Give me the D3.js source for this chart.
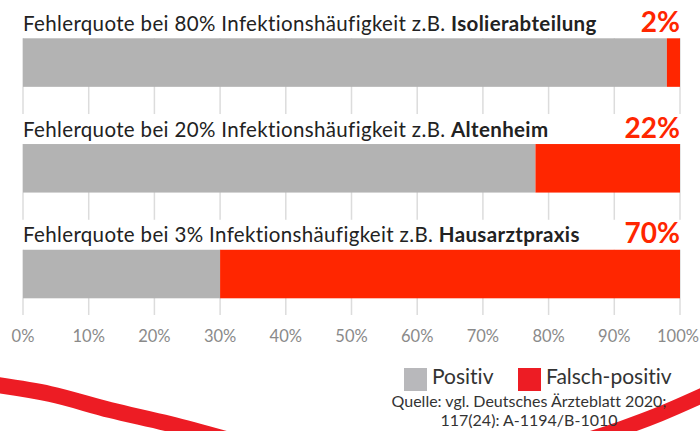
<!DOCTYPE html>
<html>
<head>
<meta charset="utf-8">
<script src="https://cdn.jsdelivr.net/npm/d3@7"></script>
<style>
  html, body { margin: 0; padding: 0; background: #fff; }
  svg { display: block; }
  text { font-variant-ligatures: none; }
</style>
</head>
<body>
<div id="chart"></div>
<script>
"use strict";
var w = 700;
var h = 431;

// data
var prevalence = ["80%", "20%", "3%"];
var settings = ["Isolierabteilung", "Altenheim", "Hausarztpraxis"];
var positive = [98, 78, 30];
var falsePositive = [2, 22, 70];
var ticks = [0, 10, 20, 30, 40, 50, 60, 70, 80, 90, 100];
var legendLabels = ["Positiv", "Falsch-positiv"];
var sourceLines = ["Quelle: vgl. Deutsches Ärzteblatt 2020;", "117(24): A-1194/B-1010"];

var grey = "#b3b3b3";
var red = "#ff2600";
var swooshRed = "#ed1c24";
var font = "Lato, 'Open Sans', sans-serif";

var svg = d3.select("#chart").append("svg")
    .attr("width", w)
    .attr("height", h);

var x = d3.scaleLinear().domain([0, 100]).range([23, 680]);
var y = d3.scaleBand()
    .domain(settings)
    .range([38.3, 298.3])
    .paddingInner(0.541)
    .paddingOuter(0);

// decorative swooshes
var line = d3.line().curve(d3.curveCatmullRom);
svg.append("path")
    .attr("d", line([[-10, 384], [50, 394], [110, 410], [170, 424], [240, 443]]))
    .attr("fill", "none").attr("stroke", swooshRed).attr("stroke-width", 16);
svg.append("path")
    .attr("d", line([[580, 442], [620, 429], [660, 414], [710, 392]]))
    .attr("fill", "none").attr("stroke", swooshRed).attr("stroke-width", 15);

// grid lines
svg.append("g").selectAll("line")
    .data(ticks)
    .enter().append("line")
    .attr("x1", function(d){ return x(d); })
    .attr("x2", function(d){ return x(d); })
    .attr("y1", y.range()[0])
    .attr("y2", 315)
    .attr("stroke", "#dcdcdc")
    .attr("stroke-width", 1.5);

// white band behind titles 2 and 3 hides the grid
svg.append("g").selectAll("rect")
    .data(settings.slice(1))
    .enter().append("rect")
    .attr("x", 0)
    .attr("y", function(d){ return y(d) - 30; })
    .attr("width", w)
    .attr("height", 30)
    .attr("fill", "#fff");

// bars
var rows = svg.append("g").selectAll("g")
    .data(settings)
    .enter().append("g");

rows.append("rect")
    .attr("x", x(0))
    .attr("y", function(d){ return y(d); })
    .attr("width", function(d, i){ return x(positive[i]) - x(0); })
    .attr("height", y.bandwidth())
    .attr("fill", grey);

rows.append("rect")
    .attr("x", function(d, i){ return x(positive[i]); })
    .attr("y", function(d){ return y(d); })
    .attr("width", function(d, i){ return x(positive[i] + falsePositive[i]) - x(positive[i]); })
    .attr("height", y.bandwidth())
    .attr("fill", red);

// titles
var title = rows.append("text")
    .attr("x", x(0))
    .attr("y", function(d){ return y(d) - 7.5; })
    .attr("font-family", font)
    .attr("font-size", 20.5)
    .attr("letter-spacing", 0.35)
    .attr("fill", "#222");
title.append("tspan")
    .text(function(d, i){ return "Fehlerquote bei " + prevalence[i] + " Infektionshäufigkeit z.B. "; });
title.append("tspan")
    .attr("font-weight", "bold")
    .text(function(d){ return d; });

// percentage labels
rows.append("text")
    .attr("x", x(100))
    .attr("y", function(d){ return y(d) - 6.5; })
    .attr("text-anchor", "end")
    .attr("font-family", font)
    .attr("font-weight", "bold")
    .attr("font-size", 28)
    .attr("fill", red)
    .text(function(d, i){ return falsePositive[i] + "%"; });

// axis labels
svg.append("g").selectAll("text")
    .data(ticks)
    .enter().append("text")
    .attr("x", function(d){ return d === 100 ? x(d) - 2 : x(d); })
    .attr("y", 342)
    .attr("text-anchor", "middle")
    .attr("font-family", font)
    .attr("font-size", 16.5)
    .attr("fill", "#8a8a8a")
    .text(function(d){ return d + "%"; });

// legend
var legendX = [404, 518];
var legendColors = ["#b8b8bb", swooshRed];
var legend = svg.append("g").selectAll("g")
    .data(legendLabels)
    .enter().append("g")
    .attr("transform", function(d, i){ return "translate(" + legendX[i] + ",368)"; });
legend.append("rect")
    .attr("width", 23).attr("height", 23)
    .attr("fill", function(d, i){ return legendColors[i]; });
legend.append("text")
    .attr("x", 28)
    .attr("y", 16)
    .attr("font-family", font)
    .attr("font-size", 21)
    .attr("fill", "#333")
    .text(function(d){ return d; });

// source
svg.append("g").selectAll("text")
    .data(sourceLines)
    .enter().append("text")
    .attr("x", 529)
    .attr("y", function(d, i){ return 407 + i * 19; })
    .attr("text-anchor", "middle")
    .attr("font-family", font)
    .attr("font-size", 16)
    .attr("fill", "#333")
    .text(function(d){ return d; });
</script>
</body>
</html>
